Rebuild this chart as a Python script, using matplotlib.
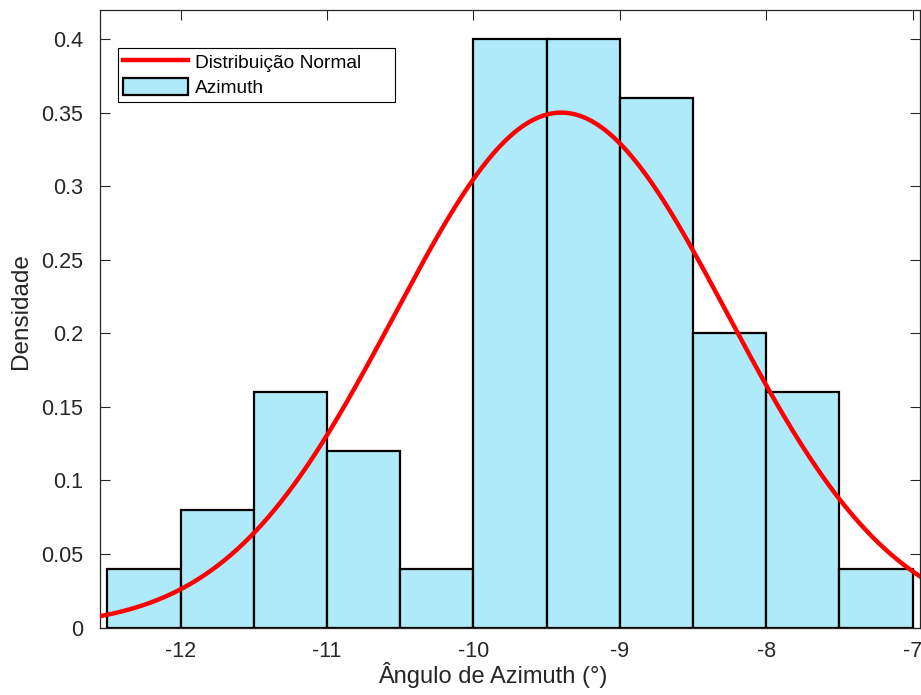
import numpy as np
import matplotlib
matplotlib.use("Agg")
import matplotlib.pyplot as plt
from matplotlib.ticker import FuncFormatter

plt.rcParams['font.family'] = ['Liberation Sans', 'DejaVu Sans']
plt.rcParams['axes.unicode_minus'] = False

# histogram data (density per 0.5 deg bin)
bin_edges = [-12.5, -12.0, -11.5, -11.0, -10.5, -10.0, -9.5, -9.0, -8.5, -8.0, -7.5, -7.0]
densities = [0.04, 0.08, 0.16, 0.12, 0.04, 0.40, 0.40, 0.36, 0.20, 0.16, 0.04]

# fitted normal distribution parameters
mu = -9.4
sigma = 1.14

fig = plt.figure(figsize=(9.21, 6.95), dpi=100)
ax = fig.add_axes([0.1086, 0.0971, 0.8903, 0.8892])

lefts = np.array(bin_edges[:-1])
widths = np.diff(bin_edges)
bars = ax.bar(lefts, densities, width=widths, align='edge', color='#aeeafa',
              edgecolor='black', linewidth=1.6, label='Azimuth', zorder=2)

x = np.linspace(-12.55, -6.95, 400)
pdf = np.exp(-0.5 * ((x - mu) / sigma) ** 2) / (sigma * np.sqrt(2 * np.pi))
line, = ax.plot(x, pdf, color='red', linewidth=3.2, label='Distribuição Normal', zorder=3)

ax.set_xlim(-12.55, -6.95)
ax.set_ylim(0, 0.42)
ax.set_xticks([-12, -11, -10, -9, -8, -7])
ax.set_yticks(np.arange(0, 0.401, 0.05))
ax.yaxis.set_major_formatter(FuncFormatter(lambda v, p: f"{v:g}"))
ax.tick_params(direction='in', length=7, width=0.8, top=True, right=True,
               labelsize=15.5, colors='#262626')
ax.tick_params(axis='x', pad=10)
ax.tick_params(axis='y', pad=12)
for s in ax.spines.values():
    s.set_color('#262626')
    s.set_linewidth(0.9)

ax.set_xlabel('Ângulo de Azimuth (°)', fontsize=17, color='#262626', labelpad=0)
ax.xaxis.set_label_coords(0.479, -0.055)
ax.set_ylabel('Densidade', fontsize=17.5, color='#262626')
ax.yaxis.set_label_coords(-0.083, 0.512)

leg = ax.legend(handles=[line, bars], loc='upper left', mode='expand',
                bbox_to_anchor=(0.022, 0.5, 0.338, 0.4377),
                fontsize=13.8, frameon=True, fancybox=False, framealpha=1,
                edgecolor='black', handlelength=3.4, handleheight=1.0,
                borderpad=0.25, labelspacing=0.3, handletextpad=0.35, borderaxespad=0)
leg.get_frame().set_linewidth(0.8)

fig.savefig('out.png', dpi=100)
